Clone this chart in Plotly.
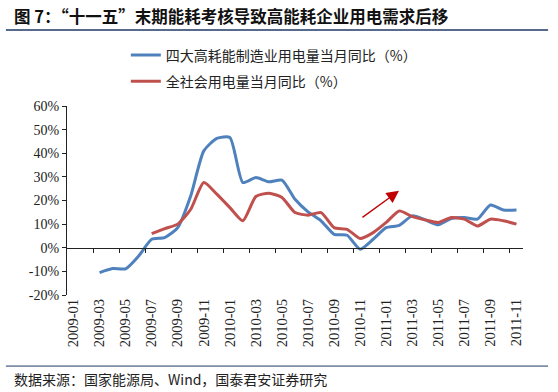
import plotly.graph_objects as go

months = ["2009-01","2009-02","2009-03","2009-04","2009-05","2009-06","2009-07","2009-08","2009-09","2009-10","2009-11","2009-12",
          "2010-01","2010-02","2010-03","2010-04","2010-05","2010-06","2010-07","2010-08","2010-09","2010-10","2010-11","2010-12",
          "2011-01","2011-02","2011-03","2011-04","2011-05","2011-06","2011-07","2011-08","2011-09","2011-10","2011-11"]

heavy_industry = [None, None, -10.5, -8.8, -8.9, -3.5, 3.6, 4.3, 8.5, 22.0, 41.0, 46.3,
                  46.7, 27.6, 29.7, 27.9, 28.6, 20.5, 15.2, 11.4, 5.7, 5.3, -0.6, 3.6,
                  8.5, 9.5, 13.5, 11.8, 9.7, 12.4, 12.8, 12.1, 18.1, 16.0, 16.0]

all_society = [None, None, None, None, None, None, 6.0, 8.1, 10.0, 16.3, 27.6, 22.7,
               17.0, 11.4, 21.7, 23.1, 21.3, 14.9, 13.8, 14.9, 8.5, 7.8, 3.9, 6.4,
               10.7, 15.6, 13.2, 11.8, 10.7, 12.8, 12.1, 9.2, 12.1, 11.4, 10.0]

name_heavy = "四大高耗能制造业用电量当月同比（%）"
name_all = "全社会用电量当月同比（%）"
title_text = "图 7：“十一五”末期能耗考核导致高能耗企业用电需求后移"
source_text = "数据来源：国家能源局、Wind，国泰君安证券研究"

y_ticks = [-20, -10, 0, 10, 20, 30, 40, 50, 60]
y_ticktext = [f"{v}%" for v in y_ticks]

xi = list(range(len(months)))
label_idx = xi[::2]
label_text = [months[i] for i in label_idx]
boundary_ticks = [i + 1.5 for i in range(0, len(months) - 1, 2)]

# arrow (trend hint) in data coords
arrow_tail = (22.06, 12.4)
arrow_head = (24.98, 24.1)

CJK = "Noto Sans CJK SC"
SERIF = "Liberation Serif"
NAVY = "#1F3864"

fig = go.Figure()
fig.add_trace(go.Scatter(x=xi, y=heavy_industry, mode="lines", name=name_heavy,
                         line=dict(color="#4F81BD", width=3, shape="spline", smoothing=0.6),
                         legendgroup="a", connectgaps=False))
fig.add_trace(go.Scatter(x=xi, y=all_society, mode="lines", name=name_all,
                         line=dict(color="#C0504D", width=3, shape="spline", smoothing=0.6),
                         legendgroup="b", connectgaps=False))
# invisible carrier trace for the zero-crossing category axis
fig.add_trace(go.Scatter(x=xi, y=heavy_industry, mode="lines", xaxis="x2", opacity=0,
                         showlegend=False, hoverinfo="skip"))

fig.update_layout(
    width=558, height=392,
    margin=dict(l=67, r=35, t=106, b=97, autoexpand=False),
    paper_bgcolor="white", plot_bgcolor="white",
    showlegend=True,
    legend=dict(x=0.129, y=1.352, xanchor="left", yanchor="top",
                font=dict(family=CJK, size=14, color="#222"),
                bgcolor="rgba(0,0,0,0)", tracegroupgap=5, traceorder="grouped"),
    xaxis=dict(range=[-0.5, 34.5], tickmode="array", tickvals=label_idx, ticktext=label_text,
               tickangle=-90, showline=False, ticks="", showgrid=False, zeroline=False,
               automargin=False,
               tickfont=dict(family=SERIF, size=14.5, color="#222")),
    xaxis2=dict(range=[-0.5, 34.5], overlaying="x", anchor="free", position=0.25, side="bottom",
                tickmode="array", tickvals=boundary_ticks, ticks="outside", ticklen=4,
                tickcolor="#222", tickwidth=1, showline=True, linecolor="#222", linewidth=1,
                showticklabels=False, showgrid=False, zeroline=False, automargin=False),
    yaxis=dict(range=[-20, 60], tickmode="array", tickvals=y_ticks, ticktext=y_ticktext,
               ticks="outside", ticklen=4, tickcolor="#222", showline=True, linecolor="#222",
               linewidth=1, showgrid=False, zeroline=False, automargin=False,
               tickfont=dict(family=SERIF, size=14, color="#222")),
)

fig.add_annotation(x=arrow_head[0], y=arrow_head[1], ax=arrow_tail[0], ay=arrow_tail[1],
                   xref="x", yref="y", axref="x", ayref="y", text="", showarrow=True,
                   arrowhead=2, arrowsize=1.9, arrowwidth=1.3, arrowcolor="#C00000")

fig.add_annotation(x=-0.1206, y=1.476, xref="paper", yref="paper", xanchor="left", yanchor="middle",
                   text="<b>" + title_text + "</b>", showarrow=False,
                   font=dict(family=CJK, size=16.5, color="#111"))
fig.add_shape(type="line", xref="paper", yref="paper", x0=-0.134, x1=1.055, y0=1.402, y1=1.402,
              line=dict(color=NAVY, width=1.5))
fig.add_shape(type="line", xref="paper", yref="paper", x0=-0.134, x1=1.055, y0=-0.376, y1=-0.376,
              line=dict(color=NAVY, width=1))
fig.add_annotation(x=-0.1206, y=-0.444, xref="paper", yref="paper", xanchor="left", yanchor="middle",
                   text=source_text, showarrow=False,
                   font=dict(family=CJK, size=14, color="#222"))

fig.write_html("out.html", config={"displayModeBar": False},
               post_script="document.body.style.margin='0';document.body.style.overflow='hidden';")
